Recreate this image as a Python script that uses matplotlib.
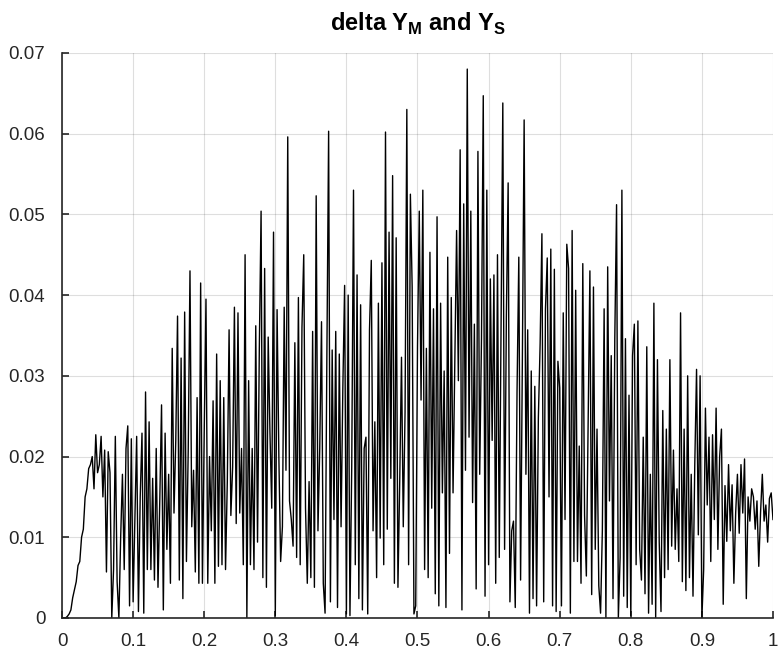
import numpy as np
import matplotlib
matplotlib.use("Agg")
import matplotlib.pyplot as plt
from matplotlib.ticker import FuncFormatter

plt.rcParams['font.family'] = ['Liberation Sans', 'DejaVu Sans']
plt.rcParams['mathtext.fontset'] = 'custom'
plt.rcParams['mathtext.rm'] = 'Liberation Sans'
plt.rcParams['mathtext.bf'] = 'Liberation Sans:bold'

# delta Y values, one row per 0.1 of x (step 0.0025)
dy_00 = [0.0000, 0.0000, 0.0000, 0.0002, 0.0005, 0.0010, 0.0025, 0.0035, 0.0045, 0.0065,
         0.0070, 0.0100, 0.0110, 0.0150, 0.0160, 0.0185, 0.0190, 0.0200, 0.0160, 0.0227,
         0.0180, 0.0190, 0.0225, 0.0150, 0.0208, 0.0057, 0.0206, 0.0180, 0.0000, 0.0060,
         0.0225, 0.0045, 0.0000, 0.0100, 0.0178, 0.0060, 0.0210, 0.0238, 0.0015, 0.0222]
dy_01 = [0.0020, 0.0120, 0.0225, 0.0008, 0.0150, 0.0229, 0.0006, 0.0280, 0.0060, 0.0243,
         0.0060, 0.0173, 0.0047, 0.0210, 0.0038, 0.0145, 0.0264, 0.0010, 0.0229, 0.0085,
         0.0178, 0.0043, 0.0334, 0.0130, 0.0220, 0.0374, 0.0047, 0.0322, 0.0024, 0.0379,
         0.0070, 0.0206, 0.0430, 0.0113, 0.0183, 0.0057, 0.0273, 0.0043, 0.0415, 0.0043]
dy_02 = [0.0229, 0.0395, 0.0043, 0.0200, 0.0108, 0.0269, 0.0043, 0.0327, 0.0064, 0.0294,
         0.0066, 0.0273, 0.0060, 0.0169, 0.0357, 0.0127, 0.0187, 0.0385, 0.0117, 0.0378,
         0.0130, 0.0210, 0.0066, 0.0450, 0.0000, 0.0294, 0.0066, 0.0210, 0.0060, 0.0362,
         0.0094, 0.0332, 0.0504, 0.0050, 0.0433, 0.0038, 0.0348, 0.0229, 0.0136, 0.0478]
dy_03 = [0.0003, 0.0382, 0.0200, 0.0070, 0.0113, 0.0385, 0.0183, 0.0596, 0.0145, 0.0122,
         0.0089, 0.0341, 0.0075, 0.0397, 0.0066, 0.0360, 0.0450, 0.0136, 0.0043, 0.0169,
         0.0050, 0.0355, 0.0038, 0.0523, 0.0108, 0.0210, 0.0367, 0.0043, 0.0006, 0.0320,
         0.0603, 0.0020, 0.0332, 0.0122, 0.0355, 0.0013, 0.0327, 0.0113, 0.0285, 0.0412]
dy_04 = [0.0005, 0.0400, 0.0003, 0.0187, 0.0530, 0.0066, 0.0425, 0.0024, 0.0388, 0.0010,
         0.0210, 0.0224, 0.0005, 0.0357, 0.0443, 0.0108, 0.0243, 0.0050, 0.0390, 0.0099,
         0.0440, 0.0066, 0.0602, 0.0110, 0.0478, 0.0173, 0.0548, 0.0043, 0.0471, 0.0038,
         0.0169, 0.0323, 0.0113, 0.0255, 0.0630, 0.0066, 0.0525, 0.0410, 0.0005, 0.0015]
dy_05 = [0.0336, 0.0504, 0.0270, 0.0530, 0.0060, 0.0334, 0.0050, 0.0453, 0.0136, 0.0383,
         0.0030, 0.0497, 0.0015, 0.0390, 0.0155, 0.0306, 0.0013, 0.0447, 0.0080, 0.0397,
         0.0155, 0.0318, 0.0480, 0.0294, 0.0580, 0.0010, 0.0513, 0.0183, 0.0680, 0.0224,
         0.0504, 0.0143, 0.0364, 0.0036, 0.0578, 0.0178, 0.0346, 0.0647, 0.0027, 0.0530]
dy_06 = [0.0066, 0.0420, 0.0220, 0.0425, 0.0043, 0.0450, 0.0075, 0.0362, 0.0638, 0.0085,
         0.0373, 0.0539, 0.0020, 0.0108, 0.0120, 0.0013, 0.0280, 0.0447, 0.0047, 0.0320,
         0.0617, 0.0178, 0.0357, 0.0006, 0.0306, 0.0024, 0.0287, 0.0015, 0.0248, 0.0340,
         0.0476, 0.0020, 0.0383, 0.0446, 0.0150, 0.0457, 0.0015, 0.0432, 0.0008, 0.0318]
dy_07 = [0.0285, 0.0015, 0.0378, 0.0122, 0.0463, 0.0433, 0.0006, 0.0480, 0.0070, 0.0406,
         0.0070, 0.0213, 0.0043, 0.0439, 0.0127, 0.0052, 0.0245, 0.0430, 0.0029, 0.0410,
         0.0085, 0.0234, 0.0040, 0.0006, 0.0108, 0.0383, 0.0000, 0.0435, 0.0145, 0.0325,
         0.0024, 0.0346, 0.0512, 0.0000, 0.0075, 0.0530, 0.0027, 0.0346, 0.0013, 0.0276]
dy_08 = [0.0003, 0.0325, 0.0364, 0.0066, 0.0368, 0.0085, 0.0047, 0.0224, 0.0030, 0.0336,
         0.0006, 0.0178, 0.0017, 0.0390, 0.0000, 0.0320, 0.0094, 0.0008, 0.0257, 0.0050,
         0.0234, 0.0060, 0.0320, 0.0089, 0.0208, 0.0085, 0.0160, 0.0070, 0.0378, 0.0045,
         0.0234, 0.0034, 0.0300, 0.0050, 0.0178, 0.0027, 0.0190, 0.0308, 0.0103, 0.0300]
dy_09 = [0.0000, 0.0060, 0.0260, 0.0140, 0.0224, 0.0070, 0.0227, 0.0122, 0.0260, 0.0085,
         0.0200, 0.0234, 0.0017, 0.0164, 0.0095, 0.0190, 0.0108, 0.0165, 0.0043, 0.0130,
         0.0178, 0.0105, 0.0190, 0.0130, 0.0197, 0.0024, 0.0150, 0.0120, 0.0160, 0.0150,
         0.0110, 0.0145, 0.0064, 0.0130, 0.0178, 0.0120, 0.0140, 0.0094, 0.0148, 0.0155,
         0.0122]

dy = np.array(dy_00 + dy_01 + dy_02 + dy_03 + dy_04 + dy_05 + dy_06 + dy_07 + dy_08 + dy_09)
t = np.linspace(0, 1, len(dy))

x_ticks = [0, 0.1, 0.2, 0.3, 0.4, 0.5, 0.6, 0.7, 0.8, 0.9, 1]
y_ticks = [0, 0.01, 0.02, 0.03, 0.04, 0.05, 0.06, 0.07]

fig = plt.figure(figsize=(7.8, 6.51), dpi=100)
ax = fig.add_axes([0.0795, 0.0507, 0.9115, 0.868])

ax.plot(t, dy, color='black', linewidth=1.0)

ax.set_xlim(0, 1)
ax.set_ylim(0, 0.07)
ax.set_xticks(x_ticks)
ax.set_yticks(y_ticks)
fmt = FuncFormatter(lambda v, p: '%g' % round(v, 3))
ax.xaxis.set_major_formatter(fmt)
ax.yaxis.set_major_formatter(fmt)

ax.grid(True, color='#262626', alpha=0.15, linewidth=0.8)
ax.set_axisbelow(True)
for side in ['top', 'right']:
    ax.spines[side].set_visible(False)
for side in ['left', 'bottom']:
    ax.spines[side].set_color('#262626')
    ax.spines[side].set_linewidth(1.2)
ax.tick_params(direction='in', length=5, width=1.2, color='#262626',
               labelsize=13.5, labelcolor='#262626')
ax.tick_params(axis='y', pad=12)
ax.tick_params(axis='x', pad=11)

ax.set_title(r'delta Y$_{\mathbf{M}}$ and Y$_{\mathbf{S}}$', fontsize=17,
             fontweight='bold', pad=16)

fig.savefig('out.png', dpi=100)
